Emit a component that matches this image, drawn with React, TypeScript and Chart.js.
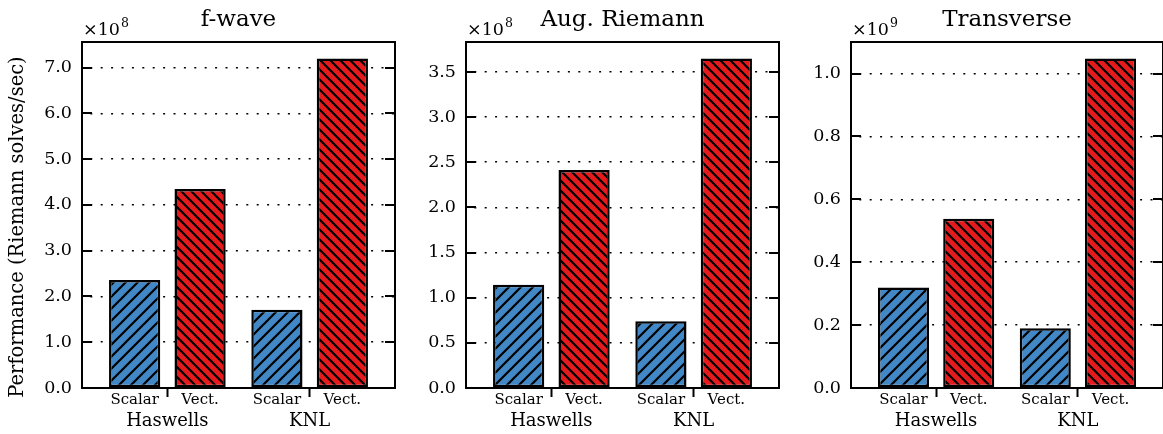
import React, { useEffect, useRef } from "react";
import { Chart, registerables } from "chart.js";

Chart.register(...registerables);

// ---------------- data (values in units of 10^exponent, as on each y axis) ----------------
const GROUPS = ["Haswells", "KNL"];
const VARIANTS = ["Scalar", "Vect."];
const TITLES = ["f-wave", "Aug. Riemann", "Transverse"];
const Y_LABEL = "Performance (Riemann solves/sec)";

const FWAVE_SCALAR = [2.36, 1.71]; // ×10^8
const FWAVE_VECT = [4.35, 7.2]; // ×10^8
const AUG_SCALAR = [1.144, 0.74]; // ×10^8
const AUG_VECT = [2.414, 3.65]; // ×10^8
const TRANS_SCALAR = [0.32, 0.19]; // ×10^9
const TRANS_VECT = [0.538, 1.048]; // ×10^9

const SCALAR_SERIES = [FWAVE_SCALAR, AUG_SCALAR, TRANS_SCALAR];
const VECT_SERIES = [FWAVE_VECT, AUG_VECT, TRANS_VECT];
const Y_STEPS = [1, 0.5, 0.2];
const Y_EXPONENTS = [8, 8, 9];

// ---------------- style ----------------
const FONT = "'DejaVu Serif', serif";
const BLUE = "#4287c6";
const RED = "#e41a1c";
const BAR_OFFSET = 0.23;
const BAR_WIDTH = 0.36;
const X_MIN = -0.6;
const X_MAX = 1.6;

const LAYOUT = [
  { left: 0, width: 400, axisW: 82, padR: 5, ylabel: true },
  { left: 400, width: 384, axisW: 66, padR: 5, ylabel: false },
  { left: 784, width: 379, axisW: 67, padR: 0, ylabel: false },
];

function makeHatch(ctx: CanvasRenderingContext2D, color: string, period: number, forward: boolean) {
  const c = document.createElement("canvas");
  c.width = period;
  c.height = period;
  const g = c.getContext("2d")!;
  g.fillStyle = color;
  g.fillRect(0, 0, period, period);
  g.strokeStyle = "#000";
  g.lineWidth = 2.2;
  g.beginPath();
  for (let k = -1; k <= 1; k++) {
    if (forward) {
      g.moveTo(k * period - 2, period + 2);
      g.lineTo(k * period + period + 2, -2);
    } else {
      g.moveTo(k * period - 2, -2);
      g.lineTo(k * period + period + 2, period + 2);
    }
  }
  g.stroke();
  return ctx.createPattern(c, "repeat")!;
}

function buildConfig(idx: number, canvas: HTMLCanvasElement): any {
  const ctx = canvas.getContext("2d")!;
  const L = LAYOUT[idx];
  const scalar = SCALAR_SERIES[idx];
  const vect = VECT_SERIES[idx];
  const exp = Y_EXPONENTS[idx];
  const yMax = Math.max(...scalar, ...vect) * 1.05;

  const tickPositions: number[] = [];
  const tickLabels: Record<string, string> = {};
  GROUPS.forEach((_, i) => {
    const a = i - BAR_OFFSET;
    const b = i + BAR_OFFSET;
    tickPositions.push(a, i, b);
    tickLabels[a.toFixed(3)] = VARIANTS[0];
    tickLabels[i.toFixed(3)] = "";
    tickLabels[b.toFixed(3)] = VARIANTS[1];
  });
  const groupCenters = GROUPS.map((_, i) => i);
  // Chart.js sizes bars from the smallest gap between ticks/bars (here BAR_OFFSET)
  const barPercentage = BAR_WIDTH / BAR_OFFSET;

  const framePlugin = {
    id: "frame" + idx,
    afterDatasetsDraw(chart: any) {
      const c = chart.ctx as CanvasRenderingContext2D;
      const a = chart.chartArea;
      const y = chart.scales.y;
      c.save();
      c.strokeStyle = "#000";
      c.lineWidth = 2;
      c.strokeRect(a.left, a.top, a.right - a.left, a.bottom - a.top);
      c.beginPath();
      y.ticks.forEach((t: any) => {
        const py = Math.round(y.getPixelForValue(t.value));
        c.moveTo(a.left, py);
        c.lineTo(a.left + 10, py);
        c.moveTo(a.right, py);
        c.lineTo(a.right - 10, py);
      });
      c.stroke();
      // offset label
      c.fillStyle = "#000";
      c.textAlign = "left";
      c.textBaseline = "alphabetic";
      c.font = `17.5px ${FONT}`;
      const base = "×10";
      c.fillText(base, a.left + 1, a.top - 7);
      const w = c.measureText(base).width;
      c.font = `12.5px ${FONT}`;
      c.fillText(String(exp), a.left + 2 + w, a.top - 15);
      if (L.ylabel) {
        c.translate(18, 227);
        c.rotate(-Math.PI / 2);
        c.font = `19.5px ${FONT}`;
        c.textAlign = "center";
        c.textBaseline = "middle";
        c.fillText(Y_LABEL, 0, 0);
      }
      c.restore();
    },
  };

  const common = {
    borderColor: "#000",
    borderWidth: 2.5,
    borderSkipped: false,
    grouped: false,
    categoryPercentage: 1,
    barPercentage,
  };

  return {
    type: "bar",
    data: {
      datasets: [
        {
          ...common,
          label: VARIANTS[0],
          data: GROUPS.map((_, i) => ({ x: i - BAR_OFFSET, y: scalar[i] })),
          backgroundColor: makeHatch(ctx, BLUE, 12, true),
        },
        {
          ...common,
          label: VARIANTS[1],
          data: GROUPS.map((_, i) => ({ x: i + BAR_OFFSET, y: vect[i] })),
          backgroundColor: makeHatch(ctx, RED, 10, false),
        },
      ],
    },
    options: {
      animation: false,
      responsive: false,
      devicePixelRatio: 1,
      layout: { padding: { left: 0, right: L.padR, top: 0, bottom: 0 } },
      plugins: {
        legend: { display: false },
        tooltip: { enabled: false },
        title: {
          display: true,
          text: TITLES[idx],
          fullSize: false,
          color: "#000",
          font: { family: FONT, size: 23, weight: "normal", lineHeight: 1.2 },
          padding: { top: 6, bottom: 8.4 },
        },
      },
      scales: {
        x: {
          type: "linear",
          position: "bottom",
          weight: 0,
          min: X_MIN,
          max: X_MAX,
          offset: false,
          afterBuildTicks: (s: any) => {
            s.ticks = tickPositions.map((v) => ({ value: v }));
          },
          afterFit: (s: any) => {
            s.height = 20;
          },
          ticks: {
            autoSkip: false,
            maxRotation: 0,
            minRotation: 0,
            padding: -6,
            color: "#000",
            font: { family: FONT, size: 15 },
            callback: (v: number) => tickLabels[Number(v).toFixed(3)] ?? "",
          },
          grid: {
            display: true,
            offset: false,
            drawOnChartArea: false,
            drawTicks: true,
            tickLength: 9,
            tickWidth: 2,
            tickColor: (c: any) =>
              c.tick && groupCenters.includes(c.tick.value) ? "#000" : "rgba(0,0,0,0)",
          },
          border: { display: false },
        },
        x2: {
          type: "linear",
          position: "bottom",
          weight: 1,
          min: X_MIN,
          max: X_MAX,
          offset: false,
          afterBuildTicks: (s: any) => {
            s.ticks = groupCenters.map((v) => ({ value: v }));
          },
          afterFit: (s: any) => {
            s.height = 26;
          },
          ticks: {
            autoSkip: false,
            maxRotation: 0,
            minRotation: 0,
            padding: 3,
            color: "#000",
            font: { family: FONT, size: 18 },
            callback: (v: number) => GROUPS[Math.round(Number(v))] ?? "",
          },
          grid: { display: false, drawTicks: false, offset: false },
          border: { display: false },
        },
        y: {
          type: "linear",
          position: "left",
          min: 0,
          max: yMax,
          afterFit: (s: any) => {
            s.width = L.axisW;
          },
          ticks: {
            stepSize: Y_STEPS[idx],
            includeBounds: false,
            padding: 10,
            color: "#000",
            font: { family: FONT, size: 17.5 },
            callback: (v: number) => Number(v).toFixed(1),
          },
          grid: { color: "#000", lineWidth: 1.6, drawTicks: false },
          border: { display: false, dash: [2, 8.4], dashOffset: 2.1 },
        },
      },
    },
    plugins: [framePlugin],
  };
}

function Panel({ idx }: { idx: number }) {
  const ref = useRef<HTMLCanvasElement>(null);
  useEffect(() => {
    const chart = new Chart(ref.current!, buildConfig(idx, ref.current!));
    return () => chart.destroy();
  }, [idx]);
  const L = LAYOUT[idx];
  return (
    <canvas
      ref={ref}
      width={L.width}
      height={434}
      style={{ position: "absolute", left: L.left, top: 0, width: L.width, height: 434 }}
    />
  );
}

export default function App() {
  return (
    <div
      style={{
        position: "absolute",
        left: 0,
        top: 0,
        width: 1163,
        height: 434,
        background: "#fff",
        overflow: "hidden",
      }}
    >
      {TITLES.map((_, i) => (
        <Panel key={i} idx={i} />
      ))}
    </div>
  );
}
